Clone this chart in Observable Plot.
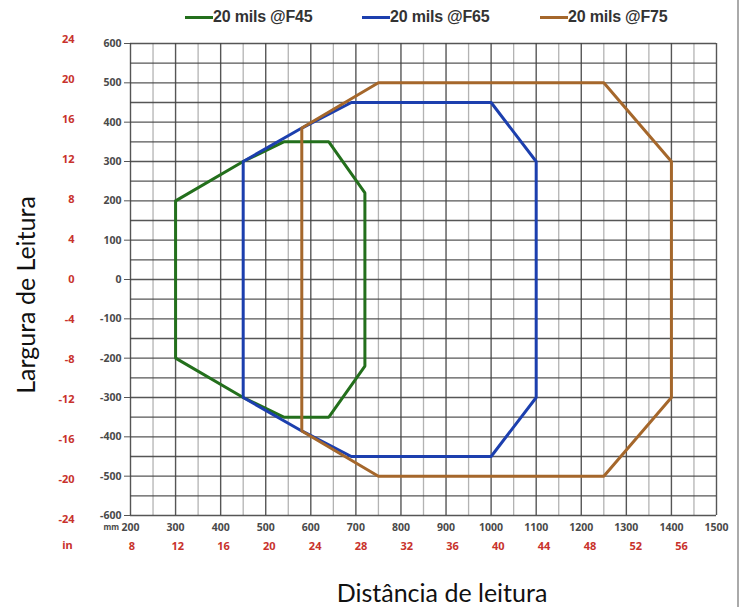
<!DOCTYPE html>
<html>
<head>
<meta charset="utf-8">
<script src="https://cdn.jsdelivr.net/npm/d3@7"></script>
<script src="https://cdn.jsdelivr.net/npm/@observablehq/plot@0.6"></script>
<style>
  html, body { margin: 0; padding: 0; background: #fff; }
  #wrap { position: relative; width: 746px; height: 607px; overflow: hidden; font-family: "Liberation Sans", Arial, sans-serif; }
  #wrap svg { position: absolute; left: 0; top: 0; }
  .leg { position: absolute; top: 7px; height: 20px; display: flex; align-items: center; font: bold 16px "Liberation Sans", Arial, sans-serif; color: #333; letter-spacing: -0.2px; }
  .leg span.sw { display: inline-block; width: 28px; height: 3px; }
  .title { position: absolute; font-family: Lato, "Open Sans", sans-serif; font-size: 25px; font-weight: 400; color: #111; white-space: nowrap; line-height: 1.2; }
  #border { position: absolute; left: 737px; top: 0; width: 2px; height: 607px; background: #aaa; }
</style>
</head>
<body>
<div id="wrap"></div>
<script>
// ---- data (mm) ----
const seriesNames = ["20 mils @F45", "20 mils @F65", "20 mils @F75"];
const seriesColors = ["#236f1c", "#1c3fae", "#a5672b"];

const f45X = [300, 450, 540, 640, 720, 720, 640, 540, 450, 300, 300];
const f45Y = [200, 300, 350, 350, 220, -220, -350, -350, -300, -200, 200];

const f65X = [450, 580, 690, 1000, 1100, 1100, 1000, 690, 580, 450, 450];
const f65Y = [300, 385, 450, 450, 300, -300, -450, -450, -385, -300, 300];

const f75X = [580, 750, 1250, 1400, 1400, 1250, 750, 580, 580];
const f75Y = [385, 500, 500, 300, -300, -500, -500, -385, 385];

// ---- axis ticks ----
const mmXTicks = [200, 300, 400, 500, 600, 700, 800, 900, 1000, 1100, 1200, 1300, 1400, 1500];
const mmYTicks = [600, 500, 400, 300, 200, 100, 0, -100, -200, -300, -400, -500, -600];
const inXTicks = [8, 12, 16, 20, 24, 28, 32, 36, 40, 44, 48, 52, 56];
const inYTicks = [24, 20, 16, 12, 8, 4, 0, -4, -8, -12, -16, -20, -24];
const MM_PER_IN = 25.4;

const minorX = d3.range(250, 1500, 100);
const gridYAll = d3.range(-600, 601, 50);

const rows = [];
[[f45X, f45Y], [f65X, f65Y], [f75X, f75Y]].forEach(([xs, ys], s) => {
  xs.forEach((x, i) => rows.push({series: seriesNames[s], x, y: ys[i]}));
});

const red = "#c8322c";
const gray = "#4a4a4a";

const chart = Plot.plot({
  width: 746,
  height: 607,
  marginLeft: 130,
  marginRight: 30,
  marginTop: 43,
  marginBottom: 92,
  style: {background: "transparent", overflow: "visible"},
  x: {domain: [200, 1500]},
  y: {domain: [-600, 600]},
  color: {domain: seriesNames, range: seriesColors},
  marks: [
    Plot.gridX(minorX, {stroke: "#999", strokeOpacity: 0.75, strokeWidth: 1.3}),
    Plot.gridX(mmXTicks, {stroke: "#444", strokeOpacity: 0.9, strokeWidth: 1.4}),
    Plot.gridY(gridYAll, {stroke: "#444", strokeOpacity: 0.9, strokeWidth: 1.4}),
    Plot.line(rows, {x: "x", y: "y", z: "series", stroke: "series", strokeWidth: 3, strokeLinejoin: "miter"}),
    Plot.axisY(mmYTicks, {
      tickSize: 6, tickPadding: 3, stroke: "#555",
      tickFormat: d => String(d), fontSize: 10.5, fontWeight: "bold", fill: gray, label: null
    }),
    Plot.axisX(mmXTicks, {
      tickSize: 0, tickPadding: 8, tickFormat: d => String(d),
      fontSize: 10.5, fontWeight: "bold", fill: gray, label: null
    }),
    Plot.axisX(inXTicks.map(v => v * MM_PER_IN), {
      tickSize: 0, tickPadding: 27, tickFormat: d => String(Math.round(d / MM_PER_IN)),
      fontSize: 11, fontWeight: "bold", fill: red, label: null
    }),
    Plot.text(inYTicks, {
      y: d => d * MM_PER_IN, text: d => String(d), frameAnchor: "left",
      dx: -56, textAnchor: "end", fill: red, fontSize: 11, fontWeight: "bold"
    }),
    Plot.text(["mm"], {frameAnchor: "bottom-left", dx: -27, dy: 14, fill: gray, fontSize: 8, fontWeight: "bold"}),
    Plot.text(["in"], {frameAnchor: "bottom-left", dx: -63, dy: 33, textAnchor: "middle", fill: red, fontSize: 11, fontWeight: "bold"})
  ]
});

const wrap = document.getElementById("wrap");
wrap.appendChild(chart);

// legend
const legLeft = [185, 362, 540];
seriesNames.forEach((name, i) => {
  const d = document.createElement("div");
  d.className = "leg";
  d.style.left = legLeft[i] + "px";
  const sw = document.createElement("span");
  sw.className = "sw";
  sw.style.background = seriesColors[i];
  d.appendChild(sw);
  d.appendChild(document.createTextNode(name));
  wrap.appendChild(d);
});

// axis titles
const yt = document.createElement("div");
yt.className = "title";
yt.textContent = "Largura de Leitura";
yt.style.left = "25px";
yt.style.top = "295px";
yt.style.transform = "translate(-50%, -50%) rotate(-90deg)";
wrap.appendChild(yt);

const xt = document.createElement("div");
xt.className = "title";
xt.textContent = "Distância de leitura";
xt.style.left = "442px";
xt.style.top = "592px";
xt.style.transform = "translate(-50%, -50%)";
wrap.appendChild(xt);

const b = document.createElement("div");
b.id = "border";
wrap.appendChild(b);
</script>
</body>
</html>
